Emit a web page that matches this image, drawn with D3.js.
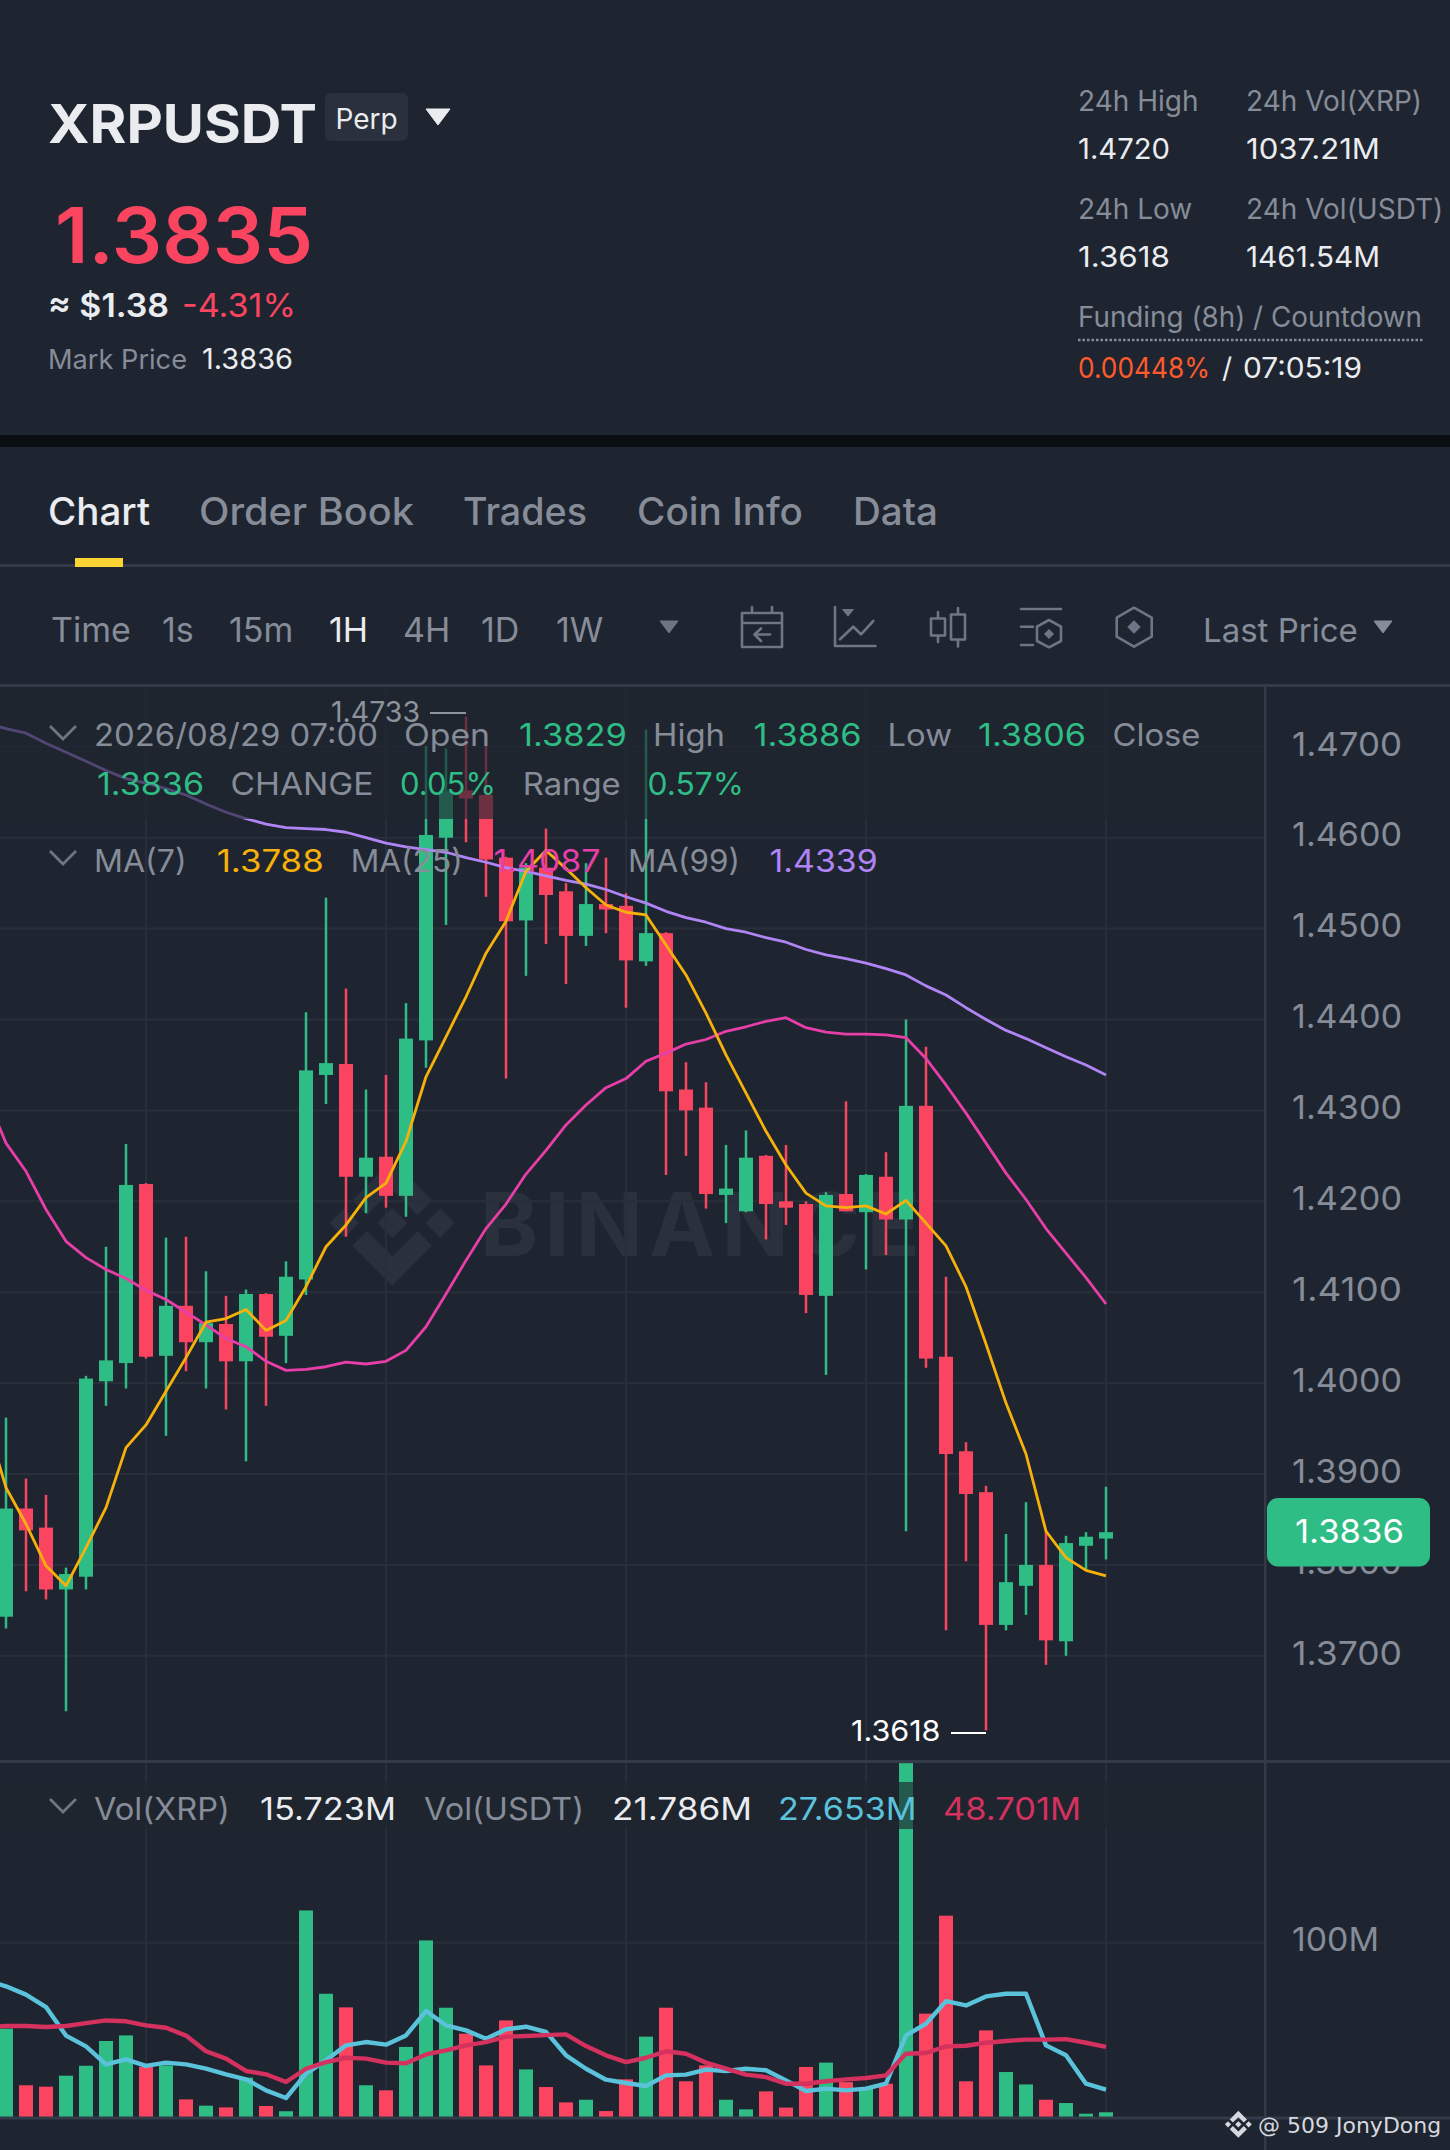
<!DOCTYPE html>
<html>
<head>
<meta charset="utf-8">
<script src="https://cdn.jsdelivr.net/npm/d3@7"></script>
<style>
  html, body { margin: 0; padding: 0; background: #1e2530; }
  svg { display: block; font-family: Inter, "Noto Sans", sans-serif; }
</style>
</head>
<body>
<div id="chart"></div>
<script>
// candles
const opens = [1.3743,1.3862,1.3841,1.3773,1.3787,1.4002,1.4022,1.4219,1.4030,1.4085,
  1.4045,1.4065,1.4024,1.4098,1.4052,1.4114,1.4339,1.4351,1.4227,1.4249,
  1.4206,1.4377,1.4600,1.4652,1.4647,1.4578,1.4509,1.4567,1.4541,1.4492,
  1.4527,1.4525,1.4464,1.4495,1.4323,1.4303,1.4207,1.4189,1.4250,1.4200,
  1.4197,1.4096,1.4208,1.4188,1.4227,1.4180,1.4305,1.4029,1.3925,1.3880,
  1.3734,1.3777,1.3800,1.3716,1.3821,1.3829];
const highs = [1.3962,1.3895,1.3877,1.3797,1.4008,1.4150,1.4263,1.4220,1.4160,1.4161,
  1.4123,1.4096,1.4103,1.4099,1.4134,1.4408,1.4534,1.4434,1.4323,1.4339,
  1.4418,1.4701,1.4698,1.4733,1.4704,1.4579,1.4572,1.4610,1.4550,1.4572,
  1.4578,1.4539,1.4719,1.4496,1.4353,1.4331,1.4262,1.4278,1.4251,1.4262,
  1.4200,1.4210,1.4310,1.4230,1.4254,1.4400,1.4370,1.4117,1.3935,1.3887,
  1.3834,1.3869,1.3837,1.3832,1.3836,1.3886];
const lows = [1.3730,1.3771,1.3762,1.3639,1.3773,1.3975,1.3994,1.4027,1.3942,1.4013,
  1.3994,1.3971,1.3914,1.3975,1.4022,1.4097,1.4307,1.4161,1.4187,1.4193,
  1.4183,1.4347,1.4504,1.4595,1.4535,1.4335,1.4448,1.4483,1.4439,1.4481,
  1.4495,1.4413,1.4459,1.4229,1.4250,1.4192,1.4176,1.4188,1.4158,1.4174,
  1.4077,1.4009,1.4189,1.4125,1.4141,1.3837,1.4017,1.3728,1.3804,1.3618,
  1.3728,1.3745,1.3690,1.3700,1.3795,1.3806];
const closes = [1.3862,1.3838,1.3773,1.3790,1.4005,1.4025,1.4218,1.4029,1.4085,1.4045,
  1.4066,1.4024,1.4098,1.4051,1.4117,1.4344,1.4352,1.4227,1.4248,1.4206,
  1.4379,1.4603,1.4651,1.4643,1.4576,1.4508,1.4567,1.4537,1.4492,1.4527,
  1.4521,1.4465,1.4495,1.4321,1.4300,1.4208,1.4214,1.4248,1.4197,1.4193,
  1.4097,1.4207,1.4189,1.4229,1.4180,1.4305,1.4027,1.3922,1.3878,1.3734,
  1.3781,1.3800,1.3717,1.3824,1.3831,1.3836];

// moving averages: first value belongs to the candle just off the left edge
const ma7 = [1.3959,1.3885,1.3845,1.3799,1.3777,1.3819,1.3863,1.3929,1.3954,1.3991,1.4028,
  1.4067,1.4071,1.4081,1.4058,1.4069,1.4106,1.4150,1.4174,1.4204,1.4220,
  1.4266,1.4337,1.4381,1.4425,1.4473,1.4508,1.4563,1.4586,1.4566,1.4545,
  1.4526,1.4518,1.4515,1.4482,1.4449,1.4407,1.4361,1.4319,1.4277,1.4240,
  1.4209,1.4195,1.4193,1.4195,1.4186,1.4201,1.4176,1.4151,1.4106,1.4043,
  1.3978,1.3922,1.3837,1.3808,1.3794,1.3788];
const ma25 = [1.4317,1.4264,1.4233,1.4191,1.4156,1.4138,1.4125,1.4115,1.4102,1.4092,1.4078,
  1.4064,1.4049,1.4040,1.4024,1.4014,1.4015,1.4018,1.4023,1.4021,1.4024,
  1.4036,1.4062,1.4098,1.4135,1.4170,1.4197,1.4230,1.4256,1.4284,1.4306,
  1.4325,1.4335,1.4354,1.4363,1.4373,1.4378,1.4387,1.4392,1.4398,1.4402,
  1.4391,1.4386,1.4384,1.4384,1.4383,1.4380,1.4357,1.4328,1.4297,1.4264,
  1.4231,1.4202,1.4170,1.4143,1.4116,1.4087];
const ma99 = [1.4726,1.4720,1.4715,1.4704,1.4694,1.4684,1.4674,1.4665,1.4660,1.4654,1.4647,
  1.4637,1.4628,1.4621,1.4615,1.4611,1.4610,1.4609,1.4606,1.4600,1.4594,
  1.4590,1.4587,1.4584,1.4578,1.4573,1.4567,1.4563,1.4558,1.4553,1.4549,
  1.4543,1.4535,1.4528,1.4519,1.4512,1.4507,1.4500,1.4496,1.4490,1.4485,
  1.4477,1.4471,1.4467,1.4462,1.4456,1.4449,1.4437,1.4427,1.4413,1.4400,
  1.4388,1.4379,1.4369,1.4359,1.4350,1.4339];

// volume in millions
const volumes = [50.7,18.2,17.4,23.7,29.4,43.6,46.8,28.7,29.6,10.1,
  6.5,5.5,22.6,6.3,3.3,118.5,70.7,62.9,18.2,15.3,
  40.2,101.3,62.7,47.8,29.6,55.4,27.3,17.2,8.4,9.9,
  3.4,21.6,46.1,62.7,20.5,29.6,9.9,4.4,14.7,5.4,
  28.7,31.2,20,16.3,19.1,203,59.3,115.5,20.5,49.7,
  25.8,18.7,9.9,8,1.9,2.7];
const volFast = [78.4,75,70.2,63.1,46.7,40.5,30.2,33.1,29.3,31.2,30.2,
  27.7,24.5,21.6,15.3,10.9,24.9,32.5,41.1,43,41.5,
  46.8,60.8,52.6,49.7,44.9,50.3,51.8,48.8,35.4,27.7,
  21.4,19.5,17.8,23.9,24.3,27.2,26.4,27.7,26.8,21,
  14.9,16.3,15.3,16.3,19.1,46.8,53.5,66.5,64,69.2,
  70.7,70.7,41.1,35.4,19.1,15.7];
const volSlow = [51.6,52.2,52.2,51.6,52.2,53.9,55.4,54.9,52.6,51.2,46.7,
  37.7,33.5,26.4,24.5,20.1,27.7,31.5,34,33.5,31.2,
  30.8,35.9,38.2,41.1,43,46.1,46.5,47,47.4,40.7,
  35.4,31.5,34,37.7,36.3,31.2,27.7,24.3,22.9,19.1,
  19.1,20.5,21.6,22.4,23.9,36.3,36.7,40.5,40.9,42.6,
  43.6,44.4,44.4,44.7,42.6,40.2];

const priceTicks = [1.47,1.46,1.45,1.44,1.43,1.42,1.41,1.40,1.39,1.38,1.37];
const volTicks = [100];
const gridCandles = [7,19,31,43,55];
const lastPrice = 1.3836;

const tabLabels = ["Chart","Order Book","Trades","Coin Info","Data"];
const intervalLabels = ["Time","1s","15m","1H","4H","1D","1W"];

const bg = "#1e2530", gridCol = "#282f3a", lineCol = "#333b48";
const up = "#2ebd85", down = "#fb4560";
const gray = "#868c98", white = "#eaecef", iconCol = "#6e7685";
const col7 = "#f7b10a", col25 = "#e83ea8", col99 = "#b184f5";
const colFast = "#5bc2dc", colSlow = "#d5315f";

const width = 1450, height = 2150, axisX = 1265;

const svg = d3.select("#chart").append("svg")
  .attr("width", width).attr("height", height).style("background", bg);

const x = d3.scaleLinear().domain([0, 55]).range([6, 1106]);
const y = d3.scaleLinear().domain([1.37, 1.47]).range([1655.8, 746.8]);
const yVol = d3.scaleLinear().domain([0, 100]).range([2117, 1942.7]);

// w = measured width of the text in the reference, the font there runs wider than Inter
function txt(px, py, s, size, fill, w, weight, anchor) {
  const t = svg.append("text").attr("x", px).attr("y", py).text(s)
    .attr("font-size", size).attr("fill", fill)
    .attr("font-weight", weight || 400).attr("text-anchor", anchor || "start");
  if (w) t.attr("textLength", w).attr("lengthAdjust", "spacingAndGlyphs");
  return t;
}
function tri(cx, top, w, h, fill) {
  svg.append("path")
    .attr("d", `M${cx - w / 2},${top}L${cx + w / 2},${top}L${cx},${top + h}Z`)
    .attr("fill", fill).attr("stroke", fill).attr("stroke-width", 1).attr("stroke-linejoin", "round");
}
function chevron(top) {
  svg.append("path")
    .attr("d", `M50,${top}L63,${top + 13}L76,${top}`)
    .attr("fill", "none").attr("stroke", "#6f7683").attr("stroke-width", 2.8);
}

const logoPath = "M38.73 53.2L60 31.95l21.28 21.27 12.38-12.38L60 7.18 26.35 40.82zM7.18 60l12.38-12.38L31.95 60l-12.39 12.38zM38.73 66.8L60 88.05l21.28-21.27 12.38 12.37L60 112.82 26.35 79.18zM88.05 60l12.38-12.38L112.82 60l-12.38 12.38zM72.56 60L60 47.44 47.44 60 60 72.56z";

// header ------------------------------------------------
txt(48, 143, "XRPUSDT", 53, white, 269, 700);
svg.append("rect").attr("x", 325).attr("y", 93).attr("width", 83).attr("height", 48)
  .attr("rx", 6).attr("fill", "#2a313c");
txt(366.5, 129, "Perp", 28, white, null, 400, "middle");
tri(438, 109, 24, 16, white);

txt(55, 263, "1.3835", 77, down, 258, 600);
txt(48, 317, "≈ $1.38", 33, white, 121, 600);
txt(182, 317, "-4.31%", 33, down, 114);
txt(48, 369, "Mark Price", 27, gray, 139);
txt(202, 369, "1.3836", 28, white, 91);

txt(1078, 111, "24h High", 28, gray);
txt(1246, 111, "24h Vol(XRP)", 28, gray);
txt(1078, 158.5, "1.4720", 29, white, 92);
txt(1246, 158.5, "1037.21M", 29, white, 134);
txt(1078, 219, "24h Low", 28, gray);
txt(1246, 219, "24h Vol(USDT)", 28, gray);
txt(1078, 266.5, "1.3618", 29, white, 92);
txt(1246, 266.5, "1461.54M", 29, white, 134);
txt(1078, 327, "Funding (8h) / Countdown", 28, gray, 344);
svg.append("line").attr("x1", 1078).attr("x2", 1423).attr("y1", 340).attr("y2", 340)
  .attr("stroke", gray).attr("stroke-width", 2.5).attr("stroke-dasharray", "2.5 2");
txt(1078, 378, "0.00448%", 28, "#ff5a2c", 132);
txt(1222, 378, "/", 28, white);
txt(1243, 378, "07:05:19", 28, white, 119);

svg.append("rect").attr("x", 0).attr("y", 435).attr("width", width).attr("height", 12).attr("fill", "#0b0e11");

// tabs ---------------------------------------------------
[[48, 102], [199, 215], [463, 124], [637, 166], [853, 85]].forEach((t, i) =>
  txt(t[0], 524.5, tabLabels[i], 38, i === 0 ? white : gray, t[1], 500));
svg.append("rect").attr("x", 0).attr("y", 564).attr("width", width).attr("height", 3).attr("fill", lineCol);
svg.append("rect").attr("x", 75).attr("y", 558).attr("width", 48).attr("height", 9).attr("fill", "#fcd535");

// interval toolbar ---------------------------------------
[51, 162, 229, 329, 403, 481, 556].forEach((tx, i) =>
  txt(tx, 641.5, intervalLabels[i], 34, i === 3 ? white : gray));
tri(669, 621, 18, 12, iconCol);
txt(1203, 641.5, "Last Price", 33, gray);
tri(1383, 621, 18, 12, gray);

const icons = svg.append("g").attr("fill", "none").attr("stroke", iconCol)
  .attr("stroke-width", 2.6).attr("stroke-linejoin", "round").attr("stroke-linecap", "round");
const iconPaths = [
  "M742,613H782V647H742ZM742,623H782M752,607V613M772,607V613M770,634.5H755M761,628.5L754.5,634.5L761,641",
  "M835,607V646H875.5M840,639.3L853.3,626.7L861,634.3L873.3,621",
  "M938,612V618M938,636V642M931,618.5H945V635.5H931ZM958,608V614.5M958,639.5V646.5M951,614.5H965V639.5H951Z",
  "M1021,609H1061M1021,626.7H1033M1021,645H1033M1049,620L1061,626.7V641L1049,647.3L1037,641V626.7Z",
  "M1134,607.7L1151.7,617.7V636.7L1134,646.7L1116.7,636.7V617.7Z"
];
iconPaths.forEach(d => icons.append("path").attr("d", d));
svg.append("path").attr("d", "M848,616.7L841.7,609H854.3Z").attr("fill", iconCol);
svg.append("path").attr("d", "M1049,629L1054,634L1049,639L1044,634Z").attr("fill", iconCol);
svg.append("path").attr("d", "M1134,620.3L1140.7,627L1134,633.7L1127.3,627Z").attr("fill", iconCol);

// chart frame --------------------------------------------
svg.append("rect").attr("x", 0).attr("y", 684).attr("width", width).attr("height", 3).attr("fill", lineCol);

// watermark sits under everything else
svg.append("path").attr("d", logoPath)
  .attr("transform", "translate(321,1151.8) scale(1.187)").attr("fill", "#2a313c");
svg.append("text").attr("x", 480).attr("y", 1256).text("BINANCE")
  .attr("font-size", 88).attr("font-weight", 700).attr("fill", "#2a313c")
  .attr("textLength", 440).attr("lengthAdjust", "spacing");

const grid = svg.append("g").attr("stroke", gridCol).attr("stroke-width", 2);
grid.selectAll(".h").data(priceTicks).join("line")
  .attr("x1", 0).attr("x2", axisX).attr("y1", d => y(d)).attr("y2", d => y(d));
grid.selectAll(".hv").data(volTicks).join("line")
  .attr("x1", 0).attr("x2", axisX).attr("y1", d => yVol(d)).attr("y2", d => yVol(d));
grid.selectAll(".v").data(gridCandles).join("line")
  .attr("x1", d => x(d)).attr("x2", d => x(d)).attr("y1", 687).attr("y2", 1760);
grid.selectAll(".v2").data(gridCandles).join("line")
  .attr("x1", d => x(d)).attr("x2", d => x(d)).attr("y1", 1762).attr("y2", 2117);

// candles ------------------------------------------------
const candles = d3.range(opens.length);
const colorOf = i => closes[i] >= opens[i] ? up : down;
const bodyW = 14;

svg.append("g").selectAll("line").data(candles).join("line")
  .attr("x1", i => x(i)).attr("x2", i => x(i))
  .attr("y1", i => y(highs[i])).attr("y2", i => y(lows[i]))
  .attr("stroke", colorOf).attr("stroke-width", 2.5);
svg.append("g").selectAll("rect").data(candles).join("rect")
  .attr("x", i => x(i) - bodyW / 2).attr("width", bodyW)
  .attr("y", i => y(Math.max(opens[i], closes[i])))
  .attr("height", i => Math.abs(y(opens[i]) - y(closes[i])))
  .attr("fill", colorOf);

// volume bars --------------------------------------------
svg.append("g").selectAll("rect").data(candles).join("rect")
  .attr("x", i => x(i) - bodyW / 2).attr("width", bodyW)
  .attr("y", i => yVol(volumes[i]))
  .attr("height", i => yVol(0) - yVol(volumes[i]))
  .attr("fill", colorOf);

// ma arrays start one candle left of index 0
function drawLine(values, scale, color, w) {
  const line = d3.line().x((d, i) => x(i - 1)).y(d => scale(d));
  svg.append("path").attr("d", line(values)).attr("fill", "none")
    .attr("stroke", color).attr("stroke-width", w).attr("stroke-linejoin", "round");
}
drawLine(ma99, y, col99, 2.8);
drawLine(ma25, y, col25, 2.8);
drawLine(ma7, y, col7, 2.8);
drawLine(volFast, yVol, colFast, 4.4);
drawLine(volSlow, yVol, colSlow, 4.4);

// legend backdrops dim the marks below them
svg.append("rect").attr("x", 0).attr("y", 687).attr("width", axisX).attr("height", 132)
  .attr("fill", bg).attr("fill-opacity", 0.65);
svg.append("rect").attr("x", 0).attr("y", 1782).attr("width", axisX).attr("height", 47)
  .attr("fill", bg).attr("fill-opacity", 0.65);

// axes ---------------------------------------------------
const axisP = svg.append("g").attr("transform", `translate(${axisX},0)`)
  .call(d3.axisRight(y).tickValues(priceTicks).tickFormat(d3.format(".4f")).tickSize(0).tickPadding(27));
const axisV = svg.append("g").attr("transform", `translate(${axisX},0)`)
  .call(d3.axisRight(yVol).tickValues(volTicks).tickFormat(d => d + "M").tickSize(0).tickPadding(27));
[axisP, axisV].forEach(a => a.select(".domain").remove());
axisP.selectAll("text").attr("font-size", 33).attr("font-family", "Inter").attr("fill", gray)
  .attr("dy", "0.25em").attr("textLength", 110).attr("lengthAdjust", "spacingAndGlyphs");
axisV.selectAll("text").attr("font-size", 33).attr("font-family", "Inter").attr("fill", gray)
  .attr("dy", "0.25em").attr("textLength", 87).attr("lengthAdjust", "spacingAndGlyphs");

svg.append("rect").attr("x", 0).attr("y", 1760).attr("width", width).attr("height", 3).attr("fill", lineCol);
svg.append("rect").attr("x", 0).attr("y", 2116.5).attr("width", width).attr("height", 3).attr("fill", lineCol);
svg.append("rect").attr("x", axisX - 1).attr("y", 687).attr("width", 2.5).attr("height", height - 687).attr("fill", lineCol);

// last price tag
svg.append("rect").attr("x", 1267).attr("y", 1498).attr("width", 163).attr("height", 68.5)
  .attr("rx", 11).attr("fill", up);
txt(1295, 1542.6, d3.format(".4f")(lastPrice), 33, "#ffffff", 109);

// high / low callouts
txt(331, 722, "1.4733", 28, "#8e939c", 89);
svg.append("line").attr("x1", 430).attr("x2", 466).attr("y1", 713).attr("y2", 713)
  .attr("stroke", "#8e939c").attr("stroke-width", 2.2);
txt(851, 1741, "1.3618", 28, "#ffffff", 89.5);
svg.append("line").attr("x1", 951).attr("x2", 986).attr("y1", 1733).attr("y2", 1733)
  .attr("stroke", "#ffffff").attr("stroke-width", 2.2);

// legends ------------------------------------------------
chevron(726);
txt(94, 745.7, "2026/08/29 07:00", 31, gray, 284);
txt(404, 745.7, "Open", 31, gray, 86);
txt(519, 745.7, "1.3829", 31, up, 108);
txt(653, 745.7, "High", 31, gray, 72);
txt(753.6, 745.7, "1.3886", 31, up, 108);
txt(887.5, 745.7, "Low", 31, gray, 64.5);
txt(978, 745.7, "1.3806", 31, up, 108);
txt(1112.5, 745.7, "Close", 31, gray, 88);
txt(97, 795, "1.3836", 31, up, 107);
txt(230.5, 795, "CHANGE", 31, gray, 143);
txt(400, 795, "0.05%", 31, up, 96);
txt(522.7, 795, "Range", 31, gray, 98);
txt(647.5, 795, "0.57%", 31, up, 96.5);

chevron(851);
txt(94, 872.3, "MA(7)", 31, gray, 92.6);
txt(216.7, 872.3, "1.3788", 31, col7, 107);
txt(350.7, 872.3, "MA(25)", 31, gray, 112);
txt(493.5, 872.3, "1.4087", 31, col25, 107);
txt(628, 872.3, "MA(99)", 31, gray, 112);
txt(769.6, 872.3, "1.4339", 31, col99, 108);

chevron(1799);
txt(94, 1820, "Vol(XRP)", 31, gray, 136);
txt(260, 1820, "15.723M", 31, white, 136);
txt(424, 1820, "Vol(USDT)", 31, gray, 160);
txt(612, 1820, "21.786M", 31, white, 140);
txt(778, 1820, "27.653M", 31, colFast, 138.5);
txt(943, 1820, "48.701M", 31, colSlow, 138);

// screenshot credit
svg.append("path").attr("d", logoPath)
  .attr("transform", "translate(1223,2109) scale(0.2556)").attr("fill", "#d5d8de");
svg.append("text").attr("x", 1258).attr("y", 2132.7).text("@ 509 JonyDong")
  .attr("font-family", "DejaVu Sans").attr("font-size", 22).attr("fill", "#d5d8de");
</script>
</body>
</html>
